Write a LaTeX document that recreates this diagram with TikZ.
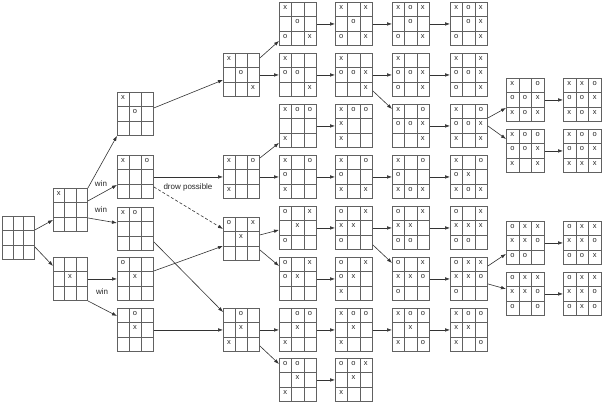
\documentclass[tikz,border=0pt]{standalone}
\usepackage{fontspec}
\setmainfont{Liberation Sans}
\usetikzlibrary{calc,arrows.meta}
\definecolor{gridc}{gray}{0.38}
\definecolor{arrc}{gray}{0.2}
\tikzset{
  brd/.style={draw=gridc, line width=0.9pt, minimum height=43pt, inner sep=0pt, fill=white,
    path picture={
      \draw[gridc, line width=0.7pt]
        ($(path picture bounding box.north west)!1/3!(path picture bounding box.north east)$) --
        ($(path picture bounding box.south west)!1/3!(path picture bounding box.south east)$)
        ($(path picture bounding box.north west)!2/3!(path picture bounding box.north east)$) --
        ($(path picture bounding box.south west)!2/3!(path picture bounding box.south east)$)
        ($(path picture bounding box.north west)!1/3!(path picture bounding box.south west)$) --
        ($(path picture bounding box.north east)!1/3!(path picture bounding box.south east)$)
        ($(path picture bounding box.north west)!2/3!(path picture bounding box.south west)$) --
        ($(path picture bounding box.north east)!2/3!(path picture bounding box.south east)$);
    }},
  mk/.style={font=\fontsize{7.5}{8}\selectfont, inner sep=0pt, text=black!85},
  arr/.style={draw=arrc, line width=0.6pt, -{Latex[length=5pt,width=3.6pt]}},
  lbl/.style={font=\fontsize{8}{9}\selectfont, inner sep=0pt, text=black!85},
}
\newcommand\brd[5]{%
  \node[brd, minimum width=#4pt, anchor=north west] (#1) at (#2,#3) {};%
  \def\bname{#1}\def\bwid{#4}\brdcells#5}
\def\brdcells#1#2#3#4#5#6#7#8#9{%
  \bmk00#1\bmk10#2\bmk20#3\bmk01#4\bmk11#5\bmk21#6\bmk02#7\bmk12#8\bmk22#9}
\def\bmk#1#2#3{\if#3.\else
  \node[mk] at ($(\bname.north west)+({(#1+0.5)*\bwid/3},{(#2+0.5)*43/3-1.5})$) {#3};\fi}
\begin{document}
\begin{tikzpicture}[x=1pt,y=-1pt]
\useasboundingbox[fill=white] (0,0) rectangle (604,412);
% column 0,1
\brd{b0}{2}{216}{32}{.........}
\brd{a1}{53}{188}{34}{x........}
\brd{a2}{53}{257}{34}{....x....}
% column 2
\brd{c1}{117}{92}{36}{x...o....}
\brd{c2}{117}{155}{36}{x.o......}
\brd{c3}{117}{207}{36}{xo.......}
\brd{c4}{117}{257}{36}{o...x....}
\brd{c5}{117}{308}{36}{.o..x....}
% column 3
\brd{d1}{223}{53}{36}{x...o...x}
\brd{d2}{223}{155}{36}{x.o...x..}
\brd{d3}{223}{217}{36}{o.x.x....}
\brd{d4}{223}{308}{36}{.o..x.x..}
% column 4
\brd{e1}{279}{2}{37}{x...o.o.x}
\brd{e2}{279}{53}{37}{x..oo...x}
\brd{e3}{279}{104}{37}{xoo...x..}
\brd{e4}{279}{155}{37}{x.oo..x..}
\brd{e5}{279}{206}{37}{o.x.x.o..}
\brd{e6}{279}{257}{37}{o.xox....}
\brd{e7}{279}{308}{37}{.oo.x.x..}
\brd{e8}{279}{358}{37}{oo..x.x..}
% column 5
\brd{f1}{335}{2}{37}{x.x.o.o.x}
\brd{f2}{335}{53}{37}{x..oox..x}
\brd{f3}{335}{104}{37}{xoox..x..}
\brd{f4}{335}{155}{37}{x.oo..x.x}
\brd{f5}{335}{206}{37}{o.xxx.o..}
\brd{f6}{335}{257}{37}{o.xox.x..}
\brd{f7}{335}{308}{37}{xoo.x.x..}
\brd{f8}{335}{358}{37}{oox.x.x..}
% column 6
\brd{g1}{392}{2}{37}{xox.o.o.x}
\brd{g2}{392}{53}{37}{x..ooxo.x}
\brd{g3}{392}{104}{37}{x.ooox..x}
\brd{g4}{392}{155}{37}{x.oo..xox}
\brd{g5}{392}{206}{37}{o.xxx.oo.}
\brd{g6}{392}{257}{37}{o.xxxoo..}
\brd{g7}{392}{308}{37}{xoo.x.x.o}
% column 7
\brd{h1}{450}{2}{37}{xox.oxo.x}
\brd{h2}{450}{53}{37}{x.xooxo.x}
\brd{h3}{450}{104}{37}{x.oooxx.x}
\brd{h4}{450}{155}{37}{x.oox.xox}
\brd{h5}{450}{206}{37}{o.xxxxoo.}
\brd{h6}{450}{257}{37}{oxxxxoo..}
\brd{h7}{450}{308}{37}{xooxx.x.o}
% column 8
\brd{i1}{506}{78}{38}{x.oooxxox}
\brd{i2}{506}{129}{38}{xooooxx.x}
\brd{i3}{506}{221}{38}{oxxxxooo.}
\brd{i4}{506}{272}{38}{oxxxxoo.o}
% column 9
\brd{j1}{563}{78}{38}{xxoooxxox}
\brd{j2}{563}{129}{38}{xooooxxxx}
\brd{j3}{563}{221}{38}{oxxxxooox}
\brd{j4}{563}{272}{38}{oxxxxooxo}
% labels
\node[lbl] (w1) at (101,184) {win};
\node[lbl] (w2) at (101,210) {win};
\node[lbl] (w3) at (102,292) {win};
\node[lbl] (dp) at (188,187) {drow possible};
% connectors
\draw[arr] ($(b0.east)+(0,-8)$) -- ($(a1.west)+(0,10)$);
\draw[arr] ($(b0.east)+(0,9)$) -- ($(a2.west)+(0,-13)$);
\draw[arr] (a1.north east) -- (c1.south west);
\draw[arr] ($(a1.east)+(0,-9)$) -- ($(c2.west)+(0,8)$);
\draw[arr] ($(a1.east)+(0,8)$) -- ($(c3.west)+(0,-6)$);
\draw[arr] (a2.east) -- (c4.west);
\draw[arr] (a2.south east) -- ($(c5.north west)+(0,8)$);
\draw[arr] ($(c1.east)+(0,-6)$) -- ($(d1.west)+(0,5)$);
\draw[arr] (c2.east) -- (d2.west);
\draw[arr, dashed, dash pattern=on 3pt off 2pt] ($(c2.east)+(0,10)$) -- ($(d3.west)+(0,-10)$);
\draw[arr] ($(c3.east)+(0,13)$) -- ($(d4.north west)+(0,4)$);
\draw[arr] ($(c4.east)+(0,-8)$) -- ($(d3.west)+(0,7)$);
\draw[arr] (c5.east) -- (d4.west);
\draw[arr] ($(d1.north east)+(0,5)$) -- ($(e1.south west)+(0,-5)$);
\draw[arr] (d1.east) -- (e2.west);
\draw[arr] ($(d2.north east)+(0,3)$) -- ($(e3.south west)+(0,-5)$);
\draw[arr] (d2.east) -- (e4.west);
\draw[arr] ($(d3.east)+(0,-4)$) -- ($(e5.west)+(0,2)$);
\draw[arr] ($(d3.east)+(0,11)$) -- ($(e6.west)+(0,-13)$);
\draw[arr] (d4.east) -- (e7.west);
\draw[arr] ($(d4.east)+(0,16)$) -- ($(e8.west)+(0,-16)$);
\foreach \p/\q in {e1/f1,e2/f2,e3/f3,e4/f4,e5/f5,e6/f6,e7/f7,e8/f8,
  f1/g1,f2/g2,f4/g4,f5/g5,f7/g7,
  g1/h1,g2/h2,g3/h3,g4/h4,g5/h5,g6/h6,g7/h7,
  i1/j1,i2/j2,i3/j3,i4/j4}
  \draw[arr] (\p.east) -- (\q.west);
\draw[arr] ($(f2.east)+(0,16)$) -- ($(g3.west)+(0,-17)$);
\draw[arr] ($(f5.east)+(0,17)$) -- ($(g6.west)+(0,-16)$);
\draw[arr] ($(h3.east)+(0,-8)$) -- ($(i1.west)+(0,8)$);
\draw[arr] (h3.east) -- ($(i2.west)+(0,-12)$);
\draw[arr] ($(h6.east)+(0,-13)$) -- ($(i3.west)+(0,11)$);
\draw[arr] ($(h6.east)+(0,5)$) -- ($(i4.west)+(0,-5)$);
\end{tikzpicture}
\end{document}
